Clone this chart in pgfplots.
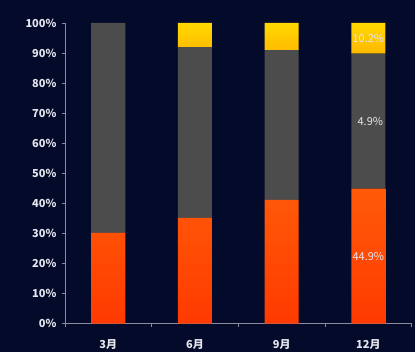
\documentclass[border=0pt]{standalone}
\usepackage{pgfplots}
\pgfplotsset{compat=1.18}
\usepackage{fontspec}
\setmainfont{Noto Sans CJK SC}
\definecolor{bg}{HTML}{030A2A}
\definecolor{axisc}{HTML}{8A8C9C}
\definecolor{txt}{HTML}{E6E6EE}
\definecolor{org1}{HTML}{FF3A00}
\definecolor{org2}{HTML}{FF5A08}
\definecolor{gr1}{HTML}{4C4C4C}
\definecolor{gr2}{HTML}{666666}
\definecolor{ye1}{HTML}{FFB800}
\definecolor{ye2}{HTML}{FFD800}
\begin{document}
\begin{tikzpicture}
\fill[bg] (-65pt,-28pt) rectangle (350pt,324pt);
\begin{axis}[
  at={(0pt,0pt)}, anchor=south west,
  scale only axis, width=347pt, height=301pt,
  ymin=0, ymax=100, xmin=-0.5, xmax=3.5,
  ybar stacked, bar width=34pt,
  axis x line*=bottom, axis y line*=left,
  axis line style={axisc, line width=0.6pt},
  ytick={0,10,...,100},
  /pgf/number format/assume math mode=true,
  yticklabel={\pgfmathprintnumber{\tick}\%},
  tick style={axisc, line width=0.6pt},
  tick align=outside, major tick length=3pt,
  y tick label style={font=\fontsize{11}{13}\selectfont\bfseries, text=txt, xshift=-2pt},
  xtick={-0.5,0.5,1.5,2.5,3.5}, xticklabels={},
  extra x ticks={0,1,2,3},
  extra x tick labels={3月,6月,9月,12月},
  extra x tick style={major tick length=0pt, tick label style={font=\fontsize{11}{13}\selectfont\bfseries, text=txt, yshift=-12pt}},
]
\addplot[draw=none, bottom color=org1, top color=org2] coordinates {(0,30.2) (1,35.2) (2,41.2) (3,44.9)};
\addplot[draw=none, left color=gr1, middle color=gr2, right color=gr1] coordinates {(0,69.8) (1,56.8) (2,49.8) (3,44.9)};
\addplot[draw=none, bottom color=ye1, top color=ye2] coordinates {(0,0) (1,8) (2,9) (3,10.2)};
\coordinate (la) at (axis cs:3,22.45);
\coordinate (lb) at (axis cs:3,67.35);
\coordinate (lc) at (axis cs:3,94.9);
\end{axis}
\node[text=txt, font=\fontsize{11}{13}\selectfont] at (la) {44.9\%};
\node[text=txt, font=\fontsize{11}{13}\selectfont, xshift=2pt] at (lb) {4.9\%};
\node[text=txt, font=\fontsize{11}{13}\selectfont] at (lc) {10.2\%};
\end{tikzpicture}
\end{document}
